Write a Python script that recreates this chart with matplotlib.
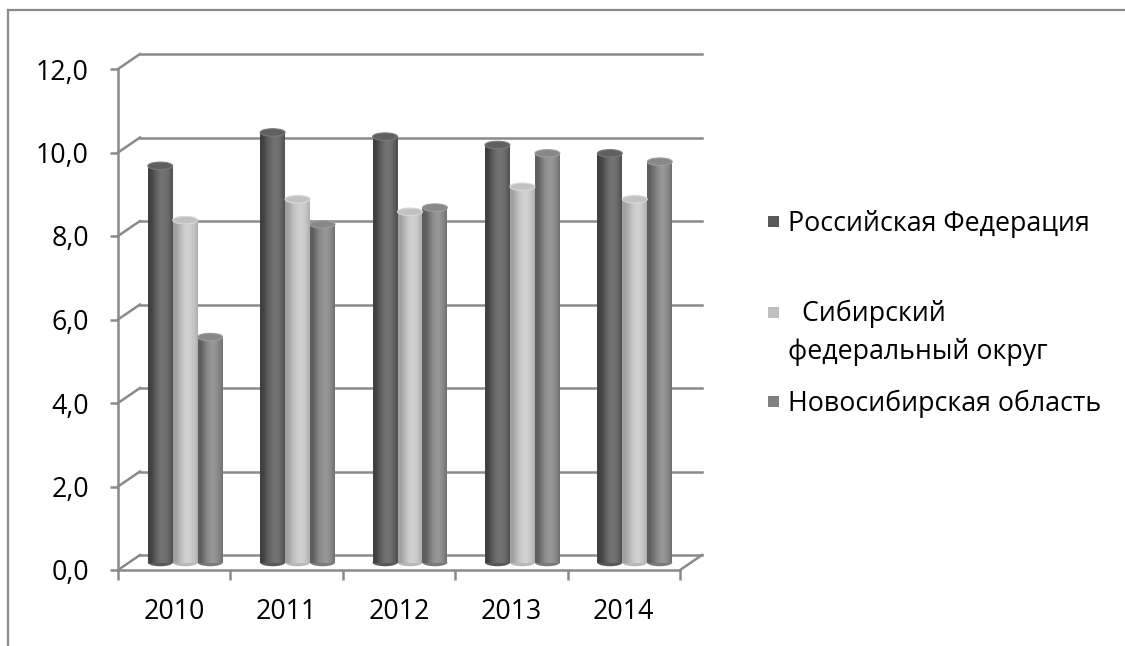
import matplotlib
matplotlib.use("Agg")
import matplotlib.pyplot as plt
import numpy as np
from matplotlib.patches import Ellipse, Rectangle
from matplotlib.lines import Line2D
from matplotlib.colors import to_rgb

# ---------------- data ----------------
years = ["2010", "2011", "2012", "2013", "2014"]
series_names = ["Российская Федерация", "Сибирский федеральный округ", "Новосибирская область"]
legend_labels = ["Российская Федерация", "  Сибирский\nфедеральный округ", "Новосибирская область"]
rf_values = [9.5, 10.3, 10.2, 10.0, 9.8]
sfo_values = [8.2, 8.7, 8.4, 9.0, 8.7]
nso_values = [5.4, 8.1, 8.5, 9.8, 9.6]
y_ticks = [0, 2, 4, 6, 8, 10, 12]
y_tick_labels = ["0,0", "2,0", "4,0", "6,0", "8,0", "10,0", "12,0"]

series_values = [rf_values, sfo_values, nso_values]

# ---------------- style ----------------
edge_cols = ["#404040", "#a0a0a0", "#5e5e5e"]
high_cols = ["#727272", "#d0d0d0", "#969696"]
top_cols = ["#606060", "#c2c2c2", "#888888"]
top_rim = ["#7a7a7a", "#d8d8d8", "#9e9e9e"]
legend_cols = ["#595959", "#bfbfbf", "#808080"]
grid_col = "#8a8a8a"
text_col = "#000000"

plt.rcParams['font.family'] = ['Open Sans', 'DejaVu Sans']
FS = 19.3

W, H = 1125, 646
fig = plt.figure(figsize=(W / 100, H / 100), dpi=100)

# outer border of chart area
fig.add_artist(Line2D([8 / W, 1.0], [1 - 10 / H, 1 - 10 / H], color=grid_col, lw=1.6))
fig.add_artist(Line2D([8 / W, 8 / W], [0, 1 - 10 / H], color=grid_col, lw=1.6))

# front plane of the pseudo-3D plot
ax_l, ax_r, ax_b, ax_t = 118, 680, 570, 69
ax = fig.add_axes([ax_l / W, (H - ax_b) / H, (ax_r - ax_l) / W, (ax_b - ax_t) / H])
ncat = len(years)
ax.set_xlim(0, ncat)
ax.set_ylim(0, 12)
ax.patch.set_visible(False)

px_x = (ax_r - ax_l) / ncat
px_y = (ax_b - ax_t) / 12.0
dx_b = 22 / px_x          # depth offset of back wall (data units)
dy_b = 15 / px_y
dx_m, dy_m = dx_b / 2, dy_b / 2   # bars sit at mid depth

for s in ["top", "right"]:
    ax.spines[s].set_visible(False)
for s in ["left", "bottom"]:
    ax.spines[s].set_color(grid_col)
    ax.spines[s].set_linewidth(1.8)

ax.set_yticks(y_ticks)
ax.set_yticklabels(y_tick_labels)
ax.tick_params(axis="y", length=6, width=1.8, color=grid_col, pad=15,
               labelsize=FS, labelcolor=text_col)
ax.set_xticks(np.arange(ncat + 1))
ax.set_xticklabels([])
ax.set_xticks(np.arange(ncat) + 0.5, minor=True)
ax.set_xticklabels(years, minor=True)
ax.tick_params(axis="x", which="major", direction="out", length=7, width=1.8, color=grid_col)
ax.tick_params(axis="x", which="minor", length=0, pad=20, labelsize=FS, labelcolor=text_col)

# back wall gridlines and depth connectors
for y in y_ticks:
    ax.plot([0, dx_b], [y, y + dy_b], color=grid_col, lw=1.8, clip_on=False, zorder=1)
    ax.plot([dx_b, ncat + dx_b], [y + dy_b, y + dy_b], color=grid_col, lw=1.8,
            clip_on=False, zorder=1)
ax.plot([ncat, ncat + dx_b], [0, dy_b], color=grid_col, lw=1.8, clip_on=False, zorder=1)

# cylinders
bw = 0.222
n_strips = 24
eh = 7.5 / px_y
x_idx = np.arange(ncat)
theta_shift = 0.35
for i, vals in enumerate(series_values):
    e = np.array(to_rgb(edge_cols[i]))
    h = np.array(to_rgb(high_cols[i]))
    lefts = x_idx + 0.5 - 1.5 * bw + i * bw + dx_m
    vals = np.array(vals)
    # rounded bottom
    for xl in lefts:
        ax.add_patch(Ellipse((xl + bw / 2, dy_m), bw, eh, facecolor=(e + h) / 2,
                             edgecolor="none", zorder=3, clip_on=False))
    for k in range(n_strips):
        t = (k + 0.5) / n_strips
        s = max(0.0, np.cos((t - 0.5) * np.pi - theta_shift)) ** 1.2
        c = e + (h - e) * s
        ax.bar(lefts + k * bw / n_strips, vals, width=bw / n_strips * 1.02, bottom=dy_m,
               align="edge", color=c, edgecolor="none", linewidth=0, zorder=4,
               clip_on=False)
    for xl, v in zip(lefts, vals):
        ax.add_patch(Ellipse((xl + bw / 2, v + dy_m), bw, eh, facecolor=top_cols[i],
                             edgecolor=top_rim[i], linewidth=0.8, zorder=5, clip_on=False))

# legend (manual, Excel-like)
leg_x_text = 788
leg_rows = [231, 323, 411]   # baseline pixel of first line
line_px = 36
sq = 11
for i, (lab, yb) in enumerate(zip(legend_labels, leg_rows)):
    yc = yb - 10
    fig.add_artist(Rectangle(((leg_x_text - 9 - sq) / W, 1 - (yc + sq / 2) / H),
                             sq / W, sq / H, facecolor=legend_cols[i], edgecolor="none"))
    n_lines = lab.count("\n")
    fig.text(leg_x_text / W, 1 - (yb + n_lines * line_px) / H, lab, fontsize=FS,
             color=text_col, ha="left", va="baseline", linespacing=1.5)

fig.savefig("out.png", dpi=100)
